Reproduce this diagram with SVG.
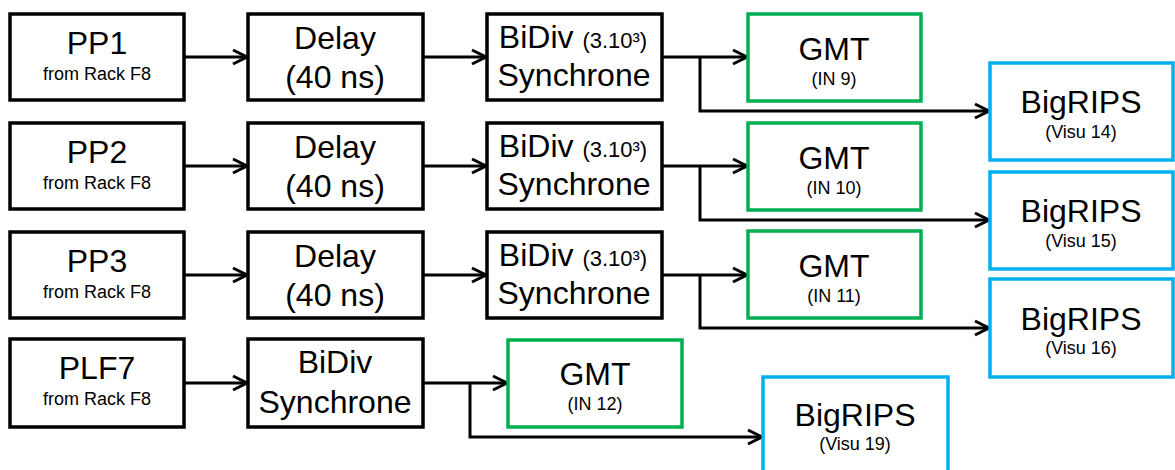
<svg xmlns="http://www.w3.org/2000/svg" width="1175" height="470" viewBox="0 0 1175 470">
<style>
.b{fill:#fff;stroke:#000;stroke-width:3.5}
.g{fill:#fff;stroke:#00B050;stroke-width:3.5}
.c{fill:#fff;stroke:#00B0F0;stroke-width:3.5}
text{font-family:"Liberation Sans",Arial,sans-serif;fill:#000;text-anchor:middle}
.L{font-size:32px}
.s{font-size:18px}
.m{font-size:22px}
.w{fill:none;stroke:#000;stroke-width:3;marker-end:url(#a)}
</style>
<defs>
<marker id="a" markerUnits="userSpaceOnUse" markerWidth="18" markerHeight="20" refX="15" refY="10" orient="auto" viewBox="0 0 18 20">
<path d="M1,3 L15,10 L1,17" fill="none" stroke="#000" stroke-width="3"/>
</marker>
</defs>
<g id="connectors">
<path class="w" d="M184,57 H247"/>
<path class="w" d="M423,57 H486"/>
<path class="w" d="M662,57 H747"/>
<path class="w" d="M700,57 V111 H989"/>
<path class="w" d="M184,166 H247"/>
<path class="w" d="M423,166 H486"/>
<path class="w" d="M662,166 H747"/>
<path class="w" d="M700,166 V220 H989"/>
<path class="w" d="M184,275 H247"/>
<path class="w" d="M423,275 H486"/>
<path class="w" d="M662,275 H747"/>
<path class="w" d="M700,275 V328 H989"/>
<path class="w" d="M184,383 H247"/>
<path class="w" d="M423,383 H507"/>
<path class="w" d="M470,383 V437 H762"/>
</g>
<g id="pp1"><rect class="b" x="10" y="14" width="174" height="86"/><text class="L" x="97" y="54">PP1</text><text class="s" x="97" y="80">from Rack F8</text></g>
<g id="delay1"><rect class="b" x="248" y="14" width="175" height="86"/><text class="L" x="335" y="49">Delay</text><text class="L" x="335" y="88">(40 ns)</text></g>
<g id="bidiv1"><rect class="b" x="487" y="14" width="175" height="86"/><text class="L" x="573" y="48">BiDiv <tspan class="m">(3.10³)</tspan></text><text class="L" x="574" y="86">Synchrone</text></g>
<g id="gmt1"><rect class="g" x="748" y="14" width="173" height="87"/><text class="L" x="834" y="60">GMT</text><text class="s" x="834" y="85">(IN 9)</text></g>
<g id="bigrips14"><rect class="c" x="990" y="63" width="183" height="97"/><text class="L" x="1081" y="113">BigRIPS</text><text class="s" x="1081" y="138">(Visu 14)</text></g>

<g id="pp2"><rect class="b" x="10" y="123" width="174" height="86"/><text class="L" x="97" y="163">PP2</text><text class="s" x="97" y="189">from Rack F8</text></g>
<g id="delay2"><rect class="b" x="248" y="123" width="175" height="86"/><text class="L" x="335" y="158">Delay</text><text class="L" x="335" y="197">(40 ns)</text></g>
<g id="bidiv2"><rect class="b" x="487" y="123" width="175" height="86"/><text class="L" x="573" y="157">BiDiv <tspan class="m">(3.10³)</tspan></text><text class="L" x="574" y="195">Synchrone</text></g>
<g id="gmt2"><rect class="g" x="748" y="123" width="173" height="87"/><text class="L" x="834" y="169">GMT</text><text class="s" x="834" y="194">(IN 10)</text></g>
<g id="bigrips15"><rect class="c" x="990" y="172" width="183" height="97"/><text class="L" x="1081" y="222">BigRIPS</text><text class="s" x="1081" y="247">(Visu 15)</text></g>

<g id="pp3"><rect class="b" x="10" y="232" width="174" height="86"/><text class="L" x="97" y="272">PP3</text><text class="s" x="97" y="298">from Rack F8</text></g>
<g id="delay3"><rect class="b" x="248" y="232" width="175" height="86"/><text class="L" x="335" y="267">Delay</text><text class="L" x="335" y="306">(40 ns)</text></g>
<g id="bidiv3"><rect class="b" x="487" y="232" width="175" height="86"/><text class="L" x="573" y="266">BiDiv <tspan class="m">(3.10³)</tspan></text><text class="L" x="574" y="304">Synchrone</text></g>
<g id="gmt3"><rect class="g" x="748" y="231" width="173" height="87"/><text class="L" x="834" y="277">GMT</text><text class="s" x="834" y="302">(IN 11)</text></g>
<g id="bigrips16"><rect class="c" x="990" y="279" width="183" height="98"/><text class="L" x="1081" y="330">BigRIPS</text><text class="s" x="1081" y="354">(Visu 16)</text></g>

<g id="plf7"><rect class="b" x="10" y="339" width="174" height="88"/><text class="L" x="97" y="379">PLF7</text><text class="s" x="97" y="405">from Rack F8</text></g>
<g id="bidiv4"><rect class="b" x="248" y="339" width="175" height="88"/><text class="L" x="335" y="373">BiDiv</text><text class="L" x="335" y="413">Synchrone</text></g>
<g id="gmt4"><rect class="g" x="508" y="340" width="174" height="87"/><text class="L" x="595" y="385">GMT</text><text class="s" x="595" y="410">(IN 12)</text></g>
<g id="bigrips19"><rect class="c" x="763" y="377" width="185" height="100"/><text class="L" x="855" y="426">BigRIPS</text><text class="s" x="855" y="450">(Visu 19)</text></g>
</svg>
